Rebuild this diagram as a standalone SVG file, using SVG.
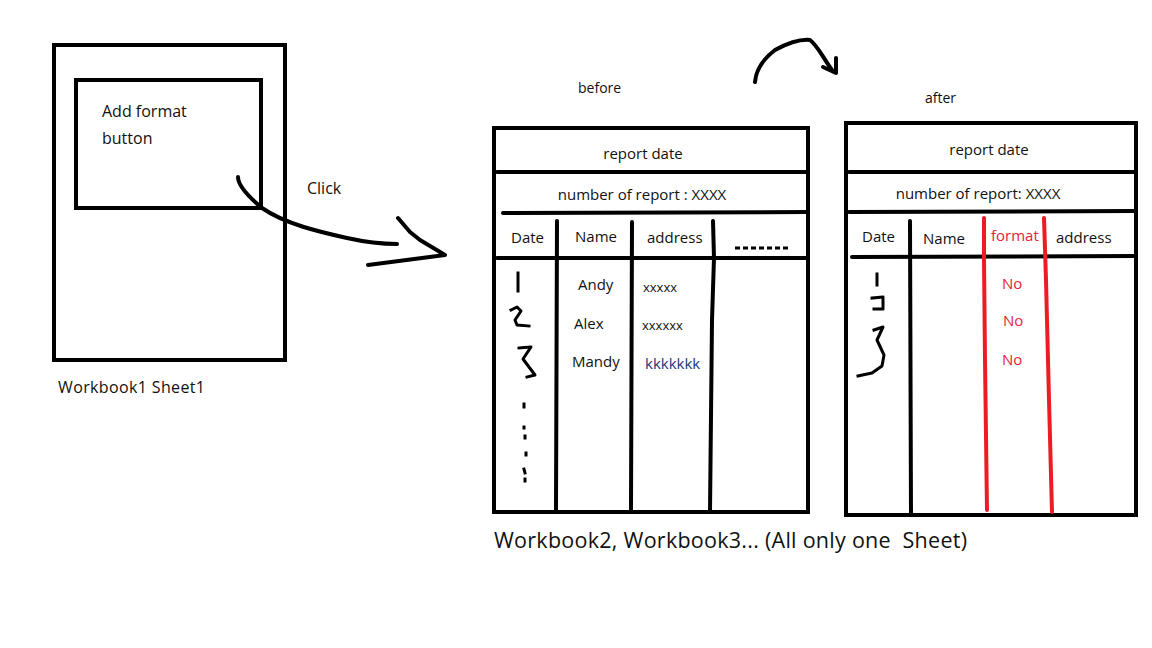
<svg xmlns="http://www.w3.org/2000/svg" width="1152" height="648" viewBox="0 0 1152 648">
<style>
.box{fill:none;stroke:#000;stroke-width:4}
.ln{fill:none;stroke:#000;stroke-width:4;stroke-linecap:round;stroke-linejoin:round}
.hw{fill:none;stroke:#000;stroke-width:3;stroke-linecap:square;stroke-linejoin:round}
.red{fill:none;stroke:#ed1c24;stroke-width:4;stroke-linecap:round}
.t{font-family:"Open Sans","Noto Sans",sans-serif;fill:#111}
.s15{font-size:15px}
.s14{font-size:14px}
.s16{font-size:16px}
.r{fill:#e8203a}
</style>
<rect width="1152" height="648" fill="#fff"/>
<g id="workbook1">
<rect class="box" x="54" y="45" width="231" height="315"/>
<text class="t s16" x="58" y="393" textLength="147">Workbook1 Sheet1</text>
</g>
<g id="button">
<rect class="box" x="76" y="80" width="185" height="128"/>
<text class="t s16" x="102" y="117">Add format</text>
<text class="t s16" x="102" y="144">button</text>
</g>
<g id="connectors">
<path class="ln" d="M238,177 C238,186 250,198 262,208 C285,224 320,232 347,238 C365,242 385,244 397,244" stroke-width="3"/>
<path class="ln" d="M398,218 L410,232 L420,240 L445,255 L368,265" stroke-width="3"/>
<text class="t s16" x="307" y="194">Click</text>
<path class="ln" d="M755,82 C756,70 762,60 775,50 C790,42 800,39 810,40 C818,46 823,58 832,70" stroke-width="3"/>
<path class="ln" d="M836,58 L836,73 L823,67" stroke-width="3"/>
</g>
<g id="before">
<text class="t s14" x="578" y="93">before</text>
<rect class="box" x="494" y="128" width="314" height="384"/>
<path class="ln" d="M497,172 L808,172"/>
<path class="ln" d="M503,213 L808,212"/>
<path class="ln" d="M497,258 L808,258"/>
<path class="ln" d="M557,221 L556,512"/>
<path class="ln" d="M632,222 L631,512"/>
<path class="ln" d="M713,221 L714,258 L712,320 L710,512"/>
<text class="t s15" x="643" y="159" text-anchor="middle">report date</text>
<text class="t s15" x="642" y="200" text-anchor="middle">number of report : XXXX</text>
<text class="t s15" x="511" y="243">Date</text>
<text class="t s15" x="575" y="242">Name</text>
<text class="t s15" x="647" y="243">address</text>
<path d="M735,248 L788,248" stroke="#000" stroke-width="3" stroke-dasharray="5,3"/>
<text class="t s15" x="578" y="290">Andy</text>
<text class="t s15" x="574" y="329">Alex</text>
<text class="t s15" x="572" y="367">Mandy</text>
<text class="t" font-size="13" x="643" y="292">xxxxx</text>
<text class="t" font-size="13" x="642" y="330">xxxxxx</text>
<text class="t s15" x="645" y="369" style="fill:#16387a">kkkkkkk</text>
<path class="hw" d="M518,273 L518,291"/>
<path class="hw" d="M511,310 L517,307 L521,311 L515,320 L517,325 L529,326"/>
<path class="hw" d="M519,348 L531,347 L523,359 L535,375 L527,377"/>
<path class="hw" d="M524,404 L524,407 M524,427 L524,428 M525,436 L525,438 M526,453 L526,455 M524,469 L525,473 M525,479 L525,481"/>
</g>
<g id="after">
<text class="t s14" x="925" y="103">after</text>
<rect class="box" x="846" y="123" width="290" height="392"/>
<path class="ln" d="M849,172 L1136,172"/>
<path class="ln" d="M849,212 L1136,211"/>
<path class="ln" d="M852,257 L1136,256"/>
<path class="ln" d="M910,221 L911,515"/>
<text class="t s15" x="989" y="155" text-anchor="middle">report date</text>
<text class="t s15" x="978" y="199" text-anchor="middle">number of report: XXXX</text>
<text class="t s15" x="862" y="242">Date</text>
<text class="t s15" x="923" y="244">Name</text>
<text class="t s15 r" x="991" y="241">format</text>
<text class="t s15" x="1056" y="243">address</text>
<text class="t s15 r" x="1002" y="289">No</text>
<text class="t s15 r" x="1003" y="326">No</text>
<text class="t s15 r" x="1002" y="365">No</text>
<path class="red" d="M984,218 L984,260 L985,360 L987,510"/>
<path class="red" d="M1044,218 L1046,280 L1049,400 L1052,512"/>
<path class="hw" d="M877,274 L877,285"/>
<path class="hw" d="M872,298 L883,297 L883,309 L874,309"/>
<path class="hw" d="M874,330 L883,327 L877,340 L884,355 L882,366 L872,373 L858,376"/>
</g>
<text class="t" font-size="21.5" font-weight="500" x="494" y="548" xml:space="preserve" textLength="473">Workbook2, Workbook3... (All only one  Sheet)</text>
</svg>
